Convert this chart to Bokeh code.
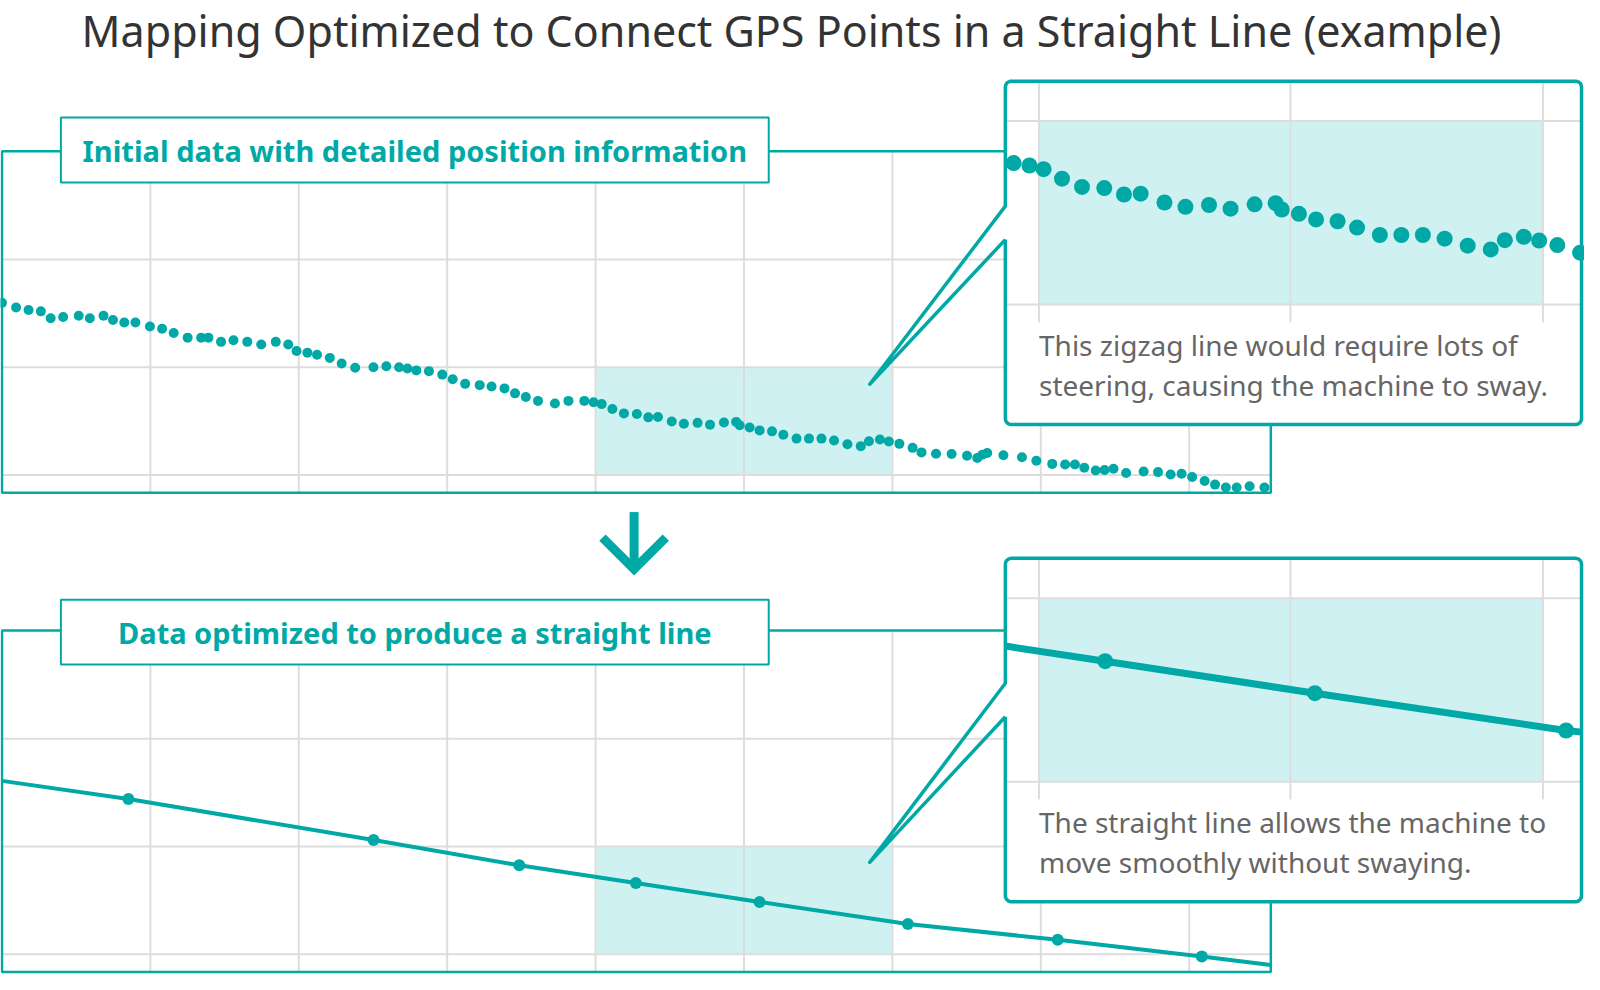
import numpy as np
from bokeh.plotting import figure
from bokeh.models import Range1d, Label
from bokeh.embed import file_html
from bokeh.resources import INLINE

# ---------------- data ----------------
TITLE = "Mapping Optimized to Connect GPS Points in a Straight Line (example)"
LABEL_TOP = "Initial data with detailed position information"
LABEL_BOTTOM = "Data optimized to produce a straight line"
NOTE_TOP = ["This zigzag line would require lots of", "steering, causing the machine to sway."]
NOTE_BOTTOM = ["The straight line allows the machine to", "move smoothly without swaying."]

# raw GPS points: distance along track (m) and lateral position (cm)
raw_x = [0.0, 0.95, 1.79, 2.62, 3.28, 4.12, 5.17, 5.92, 6.84, 7.48, 8.24, 8.99, 9.97, 10.79,
         11.57, 12.51, 13.42, 13.91, 14.76, 15.6, 16.53, 17.47, 18.45, 19.29, 19.85, 20.58,
         21.23, 22.09, 22.89, 23.8, 25.03, 25.9, 26.76, 27.32, 27.92, 28.77, 29.67, 30.37,
         31.21, 32.19, 32.99, 33.86, 34.57, 35.3, 36.12, 37.26, 38.17, 39.24, 39.86, 40.41,
         41.13, 41.91, 42.78, 43.55, 44.2, 45.13, 45.95, 46.87, 47.71, 48.65, 49.47, 49.71,
         50.38, 51.05, 51.89, 52.65, 53.54, 54.38, 55.22, 56.07, 56.97, 57.87, 58.42, 59.16,
         59.76, 60.47, 61.36, 61.96, 62.94, 63.99, 65.03, 65.72, 66.06, 66.39, 67.48, 68.73,
         69.7, 70.77, 71.64, 72.3, 72.93, 73.7, 74.3, 74.9, 75.75, 76.93, 77.9, 78.75, 79.49,
         80.2, 81.04, 81.74, 82.47, 83.2, 84.07, 85.07]
raw_y = [15.98, 15.55, 15.31, 15.19, 14.55, 14.67, 14.79, 14.55, 14.79, 14.39, 14.16, 14.16,
         13.79, 13.57, 13.18, 12.75, 12.75, 12.75, 12.36, 12.51, 12.36, 12.11, 12.36, 12.11,
         11.51, 11.35, 11.17, 10.87, 10.35, 9.95, 10.01, 10.1, 10.01, 9.89, 9.71, 9.64, 9.32,
         8.89, 8.46, 8.34, 8.22, 8.04, 7.58, 7.24, 6.88, 6.63, 6.88, 6.88, 6.76, 6.58, 6.12,
         5.72, 5.66, 5.35, 5.39, 4.96, 4.75, 4.84, 4.66, 4.87, 4.93, 4.62, 4.41, 4.14, 4.05,
         3.74, 3.38, 3.38, 3.38, 3.2, 2.86, 2.68, 3.13, 3.29, 3.11, 2.89, 2.52, 2.1, 1.97,
         1.95, 1.79, 1.58, 1.88, 2.04, 1.83, 1.64, 1.33, 1.03, 0.97, 0.97, 0.67, 0.42, 0.46,
         0.58, 0.18, 0.33, 0.27, 0.05, 0.12, -0.18, -0.55, -0.89, -1.16, -1.16, -1.04, -1.16]

# optimized points
opt_x = [8.52, 25.04, 34.86, 42.71, 51.05, 61.04, 71.14, 80.85]
opt_y = [14.41, 10.61, 8.26, 6.62, 4.86, 2.81, 1.35, -0.2]
route_start = (0.0, 16.1)
route_end = (85.5, -1.0)

grid_x = [10, 20, 30, 40, 50, 60, 70, 80]
grid_y = [0, 10, 20]
highlight_x = (40, 60)
highlight_y = (0, 10)
panel_x = (0, 85.5)
panel_y = (-1.65, 30.05)

# ---------------- style ----------------
TEAL = "#00a9a6"
CYAN = "#d0f1f1"
GRID = "#dddddd"
W, H = 1600, 990

p = figure(width=1584, height=974, x_range=Range1d(0, W), y_range=Range1d(H, 0),
           output_backend="svg", toolbar_location=None, min_border=0,
           x_axis_type=None, y_axis_type=None)
p.grid.visible = False
p.outline_line_color = None
p.background_fill_color = "white"
p.border_fill_color = "white"

# panel mappings (canvas px = a + b * data)
maps = {
    "top":   (1.5, 14.99, 482.3, -10.95),
    "bot":   (1.5, 14.99, 969.5, -10.95),
    "itop":  (1043 - 25.87 * 40, 25.87, 309.0, -20.9),
    "ibot":  (1047 - 25.4 * 40, 25.4, 794.0, -18.5),
}
xr, yr = {}, {}
for k, (ax, bx, ay, by) in maps.items():
    xr[k] = Range1d((0 - ax) / bx, (W - ax) / bx)
    yr[k] = Range1d((H - ay) / by, (0 - ay) / by)
p.extra_x_ranges = xr
p.extra_y_ranges = yr


def rn(k):
    return dict(x_range_name=k, y_range_name=k)


# ---------------- main panels ----------------
for k in ("top", "bot"):
    p.quad(left=[highlight_x[0]], right=[highlight_x[1]], bottom=[highlight_y[0]], top=[highlight_y[1]],
           fill_color=CYAN, line_color=None, **rn(k))
    p.segment(x0=grid_x, y0=[panel_y[0]] * len(grid_x), x1=grid_x, y1=[panel_y[1]] * len(grid_x),
              line_color=GRID, line_width=2, **rn(k))
    p.segment(x0=[panel_x[0]] * len(grid_y), y0=grid_y, x1=[panel_x[1]] * len(grid_y), y1=grid_y,
              line_color=GRID, line_width=2, **rn(k))
    p.quad(left=[panel_x[0]], right=[panel_x[1]], bottom=[panel_y[0]], top=[panel_y[1]],
           fill_color=None, line_color=TEAL, line_width=2.5, **rn(k))

p.scatter(raw_x, raw_y, size=10, fill_color=TEAL, line_color=None, **rn("top"))

route_x = [route_start[0]] + opt_x + [route_end[0]]
route_y = [route_start[1]] + opt_y + [route_end[1]]
p.line(route_x, route_y, line_color=TEAL, line_width=4, **rn("bot"))
p.scatter(opt_x, opt_y, size=12, fill_color=TEAL, line_color=None, **rn("bot"))

# label boxes
for (top, txt) in ((119, LABEL_TOP), (609, LABEL_BOTTOM)):
    p.quad(left=[61], right=[776], top=[top], bottom=[top + 66], fill_color="white",
           line_color=TEAL, line_width=2)
    p.add_layout(Label(x=418.5, y=top + 33, text=txt, text_align="center", text_baseline="middle",
                       text_font="Noto Sans", text_font_style="bold", text_font_size="29px",
                       text_color=TEAL))

# title
p.add_layout(Label(x=799, y=30, text=TITLE, text_align="center", text_baseline="middle",
                   text_font="Noto Sans", text_font_size="43px", text_color="#333333"))

# arrow
p.line([640, 640], [520, 575], line_color=TEAL, line_width=9)
p.line([608, 640, 672], [546, 578, 546], line_color=TEAL, line_width=9, line_join="miter")


# ---------------- insets ----------------
def rounded(x0, y0, x1, y1, r, n=6):
    def arc(cx, cy, a0, a1):
        t = np.linspace(a0, a1, n)
        return list(cx + r * np.cos(t)), list(cy + r * np.sin(t))
    xs, ys = [], []
    for cx, cy, a0, a1 in ((x0 + r, y1 - r, np.pi, np.pi / 2), (x1 - r, y1 - r, np.pi / 2, 0),
                           (x1 - r, y0 + r, 0, -np.pi / 2), (x0 + r, y0 + r, -np.pi / 2, -np.pi)):
        ax_, ay_ = arc(cx, cy, a0, a1)
        xs += ax_
        ys += ay_
    return xs, ys


def inset(y0, notes):
    x0, x1, y1 = 1015, 1597, y0 + 349
    bx, by = rounded(x0, y0, x1, y1, 6)
    p.patch(bx, by, fill_color="white", line_color=None)
    gy0, gy1 = y0 + 40.5, y0 + 227
    p.quad(left=[1049], right=[1558], top=[gy0], bottom=[gy1], fill_color=CYAN, line_color=None)
    p.segment(x0=[1049, 1303, 1558], y0=[y0] * 3, x1=[1049, 1303, 1558], y1=[y0 + 245] * 3,
              line_color=GRID, line_width=2)
    p.segment(x0=[x0, x0], y0=[gy0, gy1], x1=[x1, x1], y1=[gy0, gy1], line_color=GRID, line_width=2)
    for i, t in enumerate(notes):
        p.add_layout(Label(x=1049, y=y0 + 268 + 41 * i, text=t, text_align="left",
                           text_baseline="middle", text_font="Noto Sans", text_font_size="28px",
                           text_color="#666666"))
    return x0, x1, y1


# top inset
x0, x1, y1 = inset(82, NOTE_TOP)
ax, bx, _, _ = maps["itop"]
lo, hi = (x0 - ax) / bx, (x1 - ax) / bx
m = [(lo - 0.1) <= v <= (hi + 0.1) for v in raw_x]
p.scatter([v for v, k in zip(raw_x, m) if k], [v for v, k in zip(raw_y, m) if k], size=16,
          fill_color=TEAL, line_color=None, **rn("itop"))

# bottom inset
x0, x1, y1 = inset(567, NOTE_BOTTOM)
ax, bx, _, _ = maps["ibot"]
lo, hi = (x0 - ax) / bx, (x1 - ax) / bx
seg_x = [lo] + [v for v in route_x if lo < v < hi] + [hi]
seg_y = list(np.interp(seg_x, route_x, route_y))
p.line(seg_x, seg_y, line_color=TEAL, line_width=7, **rn("ibot"))
mk = [lo <= v <= hi for v in opt_x]
p.scatter([v for v, k in zip(opt_x, mk) if k], [v for v, k in zip(opt_y, mk) if k], size=16,
          fill_color=TEAL, line_color=None, **rn("ibot"))


# outlines with pointer
def outline(y0, apex):
    x0, x1, y1 = 1015, 1597, y0 + 349
    r, n = 6, 6
    a1y, a2y = y0 + 127, y0 + 161
    xs, ys = [x0], [a2y]

    def arc(cx, cy, t0, t1):
        t = np.linspace(t0, t1, n)
        xs.extend(cx + r * np.cos(t))
        ys.extend(cy + r * np.sin(t))
    arc(x0 + r, y1 - r, np.pi, np.pi / 2)
    arc(x1 - r, y1 - r, np.pi / 2, 0)
    arc(x1 - r, y0 + r, 0, -np.pi / 2)
    arc(x0 + r, y0 + r, -np.pi / 2, -np.pi)
    xs += [x0, apex[0], x0]
    ys += [a1y, apex[1], a2y]
    p.line(xs, ys, line_color=TEAL, line_width=3.5, line_join="round")


outline(82, (878, 390))
outline(567, (878, 876))

open("out.html", "w").write(file_html(p, INLINE))
